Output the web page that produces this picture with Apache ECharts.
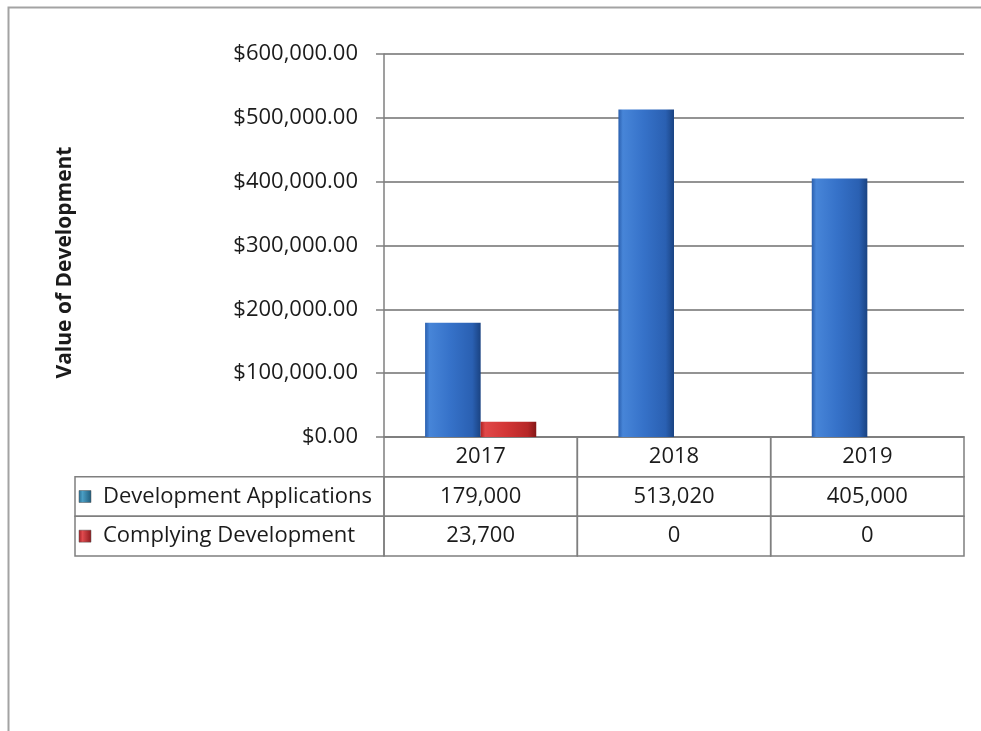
<!DOCTYPE html>
<html>
<head>
<meta charset="utf-8">
<script src="https://cdn.jsdelivr.net/npm/echarts@6/dist/echarts.min.js"></script>
<style>
  html, body { margin: 0; padding: 0; background: #fff; }
  #chart { width: 981px; height: 731px; }
</style>
</head>
<body>
<div id="chart"></div>
<script>
// Values of development by year
const years = ['2017', '2018', '2019'];
const seriesNames = ['Development Applications', 'Complying Development'];
const devApplications = [179000, 513020, 405000];
const complyingDevelopment = [23700, 0, 0];
const axisMax = 600000;
const axisStep = 100000;

const FONT = '"Open Sans", "Noto Sans", sans-serif';
const TEXT = '#1b1b1b';
const LINE = '#7f7f7f';

function barGradient(stops) {
  return new echarts.graphic.LinearGradient(0, 0, 1, 0,
    stops.map(function (s) { return { offset: s[0], color: s[1] }; }));
}
const blueFill = barGradient([[0, '#2a5fae'], [0.08, '#4785d8'], [0.45, '#3672c9'], [0.85, '#2a60b2'], [1, '#1a4382']]);
const redFill = barGradient([[0, '#b02222'], [0.08, '#e04848'], [0.45, '#d33636'], [0.85, '#b62727'], [1, '#841717']]);
const iconFills = [
  barGradient([[0, '#2a6f93'], [0.3, '#4a9ec4'], [1, '#1f5c7c']]),
  barGradient([[0, '#a31f24'], [0.3, '#e04a4e'], [1, '#8e1a1e']])
];

// Data table: header row (years) + one row per series
const tableRows = [years].concat([devApplications, complyingDevelopment].map(function (arr) {
  return arr.map(function (v) { return v.toLocaleString('en-US'); });
}));
const cells = [];
tableRows.forEach(function (row, r) {
  if (r > 0) cells.push({ col: 0, row: r, text: seriesNames[r - 1], head: true, icon: r - 1 });
  row.forEach(function (t, c) { cells.push({ col: c, row: r, text: t, head: false }); });
});
const rowLabels = ['hdr', 'a', 'b'];
const headWidth = 309;

const chart = echarts.init(document.getElementById('chart'), null, { renderer: 'canvas' });

chart.setOption({
  animation: false,
  backgroundColor: '#ffffff',
  graphic: [{
    type: 'rect', left: 6, top: 5, shape: { width: 1000, height: 740 },
    style: { fill: 'none', stroke: '#a3a3a3', lineWidth: 2 }, silent: true, z: -1
  }],
  grid: [
    { left: 384, top: 54, width: 580, height: 383 },
    { left: 384, top: 437, width: 580, height: 119 }
  ],
  xAxis: [
    {
      type: 'category', gridIndex: 0, data: years,
      axisLine: { show: true, lineStyle: { color: LINE, width: 1.5 } },
      axisTick: { show: false }, axisLabel: { show: false }, splitLine: { show: false }
    },
    {
      type: 'category', gridIndex: 1, data: years,
      axisLine: { show: false }, axisTick: { show: false }, axisLabel: { show: false },
      splitLine: { show: false }
    }
  ],
  yAxis: [
    {
      type: 'value', gridIndex: 0, min: 0, max: axisMax, interval: axisStep,
      name: 'Value of Development', nameLocation: 'middle', nameGap: 308, nameRotate: 90,
      nameTextStyle: {
        fontFamily: FONT, fontWeight: 'bold', fontSize: 21, color: TEXT,
        padding: [0, 34, 0, 0]
      },
      axisLine: { show: true, lineStyle: { color: LINE, width: 1.5 } },
      axisTick: { show: true, length: 8, lineStyle: { color: LINE, width: 1.5 } },
      axisLabel: {
        margin: 26, fontFamily: FONT, fontSize: 22, color: TEXT,
        formatter: function (v) {
          return '$' + v.toLocaleString('en-US', { minimumFractionDigits: 2, maximumFractionDigits: 2 });
        }
      },
      splitLine: { show: true, lineStyle: { color: '#6f6f6f', width: 1.5 } }
    },
    {
      type: 'category', gridIndex: 1, data: rowLabels, inverse: true,
      axisLine: { show: false }, axisTick: { show: false }, axisLabel: { show: false },
      splitLine: { show: false }
    }
  ],
  series: [
    {
      name: seriesNames[0], type: 'bar', xAxisIndex: 0, yAxisIndex: 0,
      data: devApplications, barGap: '0%', barCategoryGap: '42.5%',
      itemStyle: { color: blueFill }
    },
    {
      name: seriesNames[1], type: 'bar', xAxisIndex: 0, yAxisIndex: 0,
      data: complyingDevelopment, barGap: '0%', barCategoryGap: '42.5%',
      itemStyle: { color: redFill }
    },
    {
      type: 'custom', xAxisIndex: 1, yAxisIndex: 1,
      data: cells.map(function (c) { return [c.col, c.row]; }),
      renderItem: function (params, api) {
        const cell = cells[params.dataIndex];
        const p = api.coord([api.value(0), api.value(1)]);
        const s = api.size([1, 1]);
        const cs = params.coordSys;
        const y = p[1] - s[1] / 2, h = s[1];
        const x = cell.head ? cs.x - headWidth : p[0] - s[0] / 2;
        const w = cell.head ? headWidth : s[0];
        const children = [{
          type: 'rect', shape: { x: x, y: y, width: w, height: h },
          style: { fill: 'none', stroke: LINE, lineWidth: 1.5 }
        }];
        if (cell.head) {
          children.push({
            type: 'rect', shape: { x: x + 4, y: p[1] - 6, width: 12, height: 12 },
            style: { fill: iconFills[cell.icon], stroke: '#555', lineWidth: 0.5 }
          });
          children.push({
            type: 'text',
            style: {
              x: x + 28, y: p[1], text: cell.text, align: 'left', verticalAlign: 'middle',
              font: '22px ' + FONT, fill: TEXT
            }
          });
        } else {
          children.push({
            type: 'text',
            style: {
              x: p[0], y: p[1], text: cell.text, align: 'center', verticalAlign: 'middle',
              font: '22px ' + FONT, fill: TEXT
            }
          });
        }
        return { type: 'group', children: children };
      }
    }
  ]
});
</script>
</body>
</html>
